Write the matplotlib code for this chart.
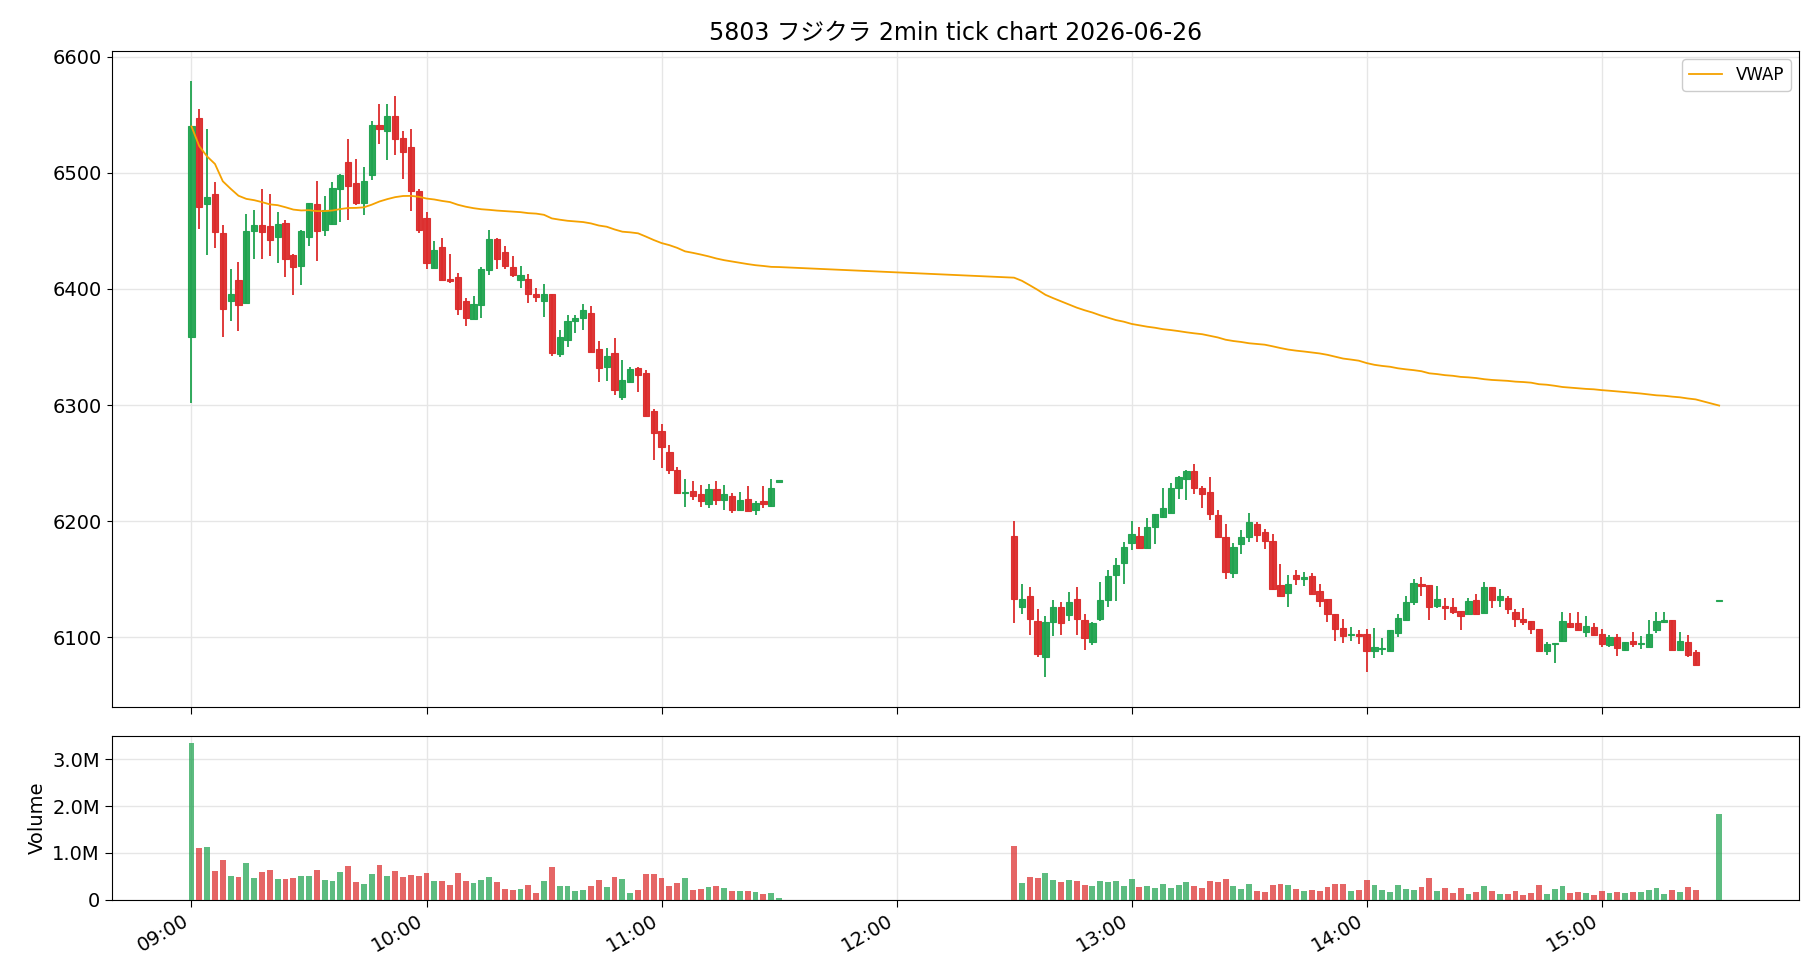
import matplotlib
matplotlib.use("Agg")
import matplotlib.pyplot as plt
import matplotlib.dates as mdates
from matplotlib.ticker import FuncFormatter
import numpy as np
import pandas as pd

plt.rcParams['font.family'] = ['DejaVu Sans', 'Noto Sans CJK JP']

# morning session 09:00 - 11:30 (2 min bars)
am_open = [6359, 6547, 6473, 6482, 6448, 6390, 6408, 6388, 6450, 6455, 6454, 6445, 6457, 6429, 6420, 6445,
           6473, 6451, 6456, 6486, 6509, 6491, 6474, 6498, 6541, 6536, 6549, 6530, 6522, 6484, 6461, 6418,
           6436, 6409, 6410, 6390, 6374, 6386, 6416, 6443, 6432, 6419, 6408, 6409, 6396, 6390, 6396, 6344,
           6356, 6372, 6375, 6379, 6348, 6333, 6345, 6307, 6320, 6332, 6328, 6295, 6278, 6260, 6244, 6224,
           6226, 6223, 6215, 6228, 6218, 6222, 6210, 6219, 6210, 6217, 6213, 6234]
am_high = [6579, 6555, 6538, 6492, 6455, 6417, 6423, 6465, 6468, 6486, 6482, 6466, 6459, 6430, 6451, 6474,
           6493, 6480, 6492, 6499, 6529, 6512, 6505, 6545, 6559, 6559, 6566, 6536, 6538, 6486, 6466, 6441,
           6444, 6430, 6414, 6392, 6394, 6419, 6451, 6444, 6437, 6428, 6420, 6413, 6401, 6404, 6396, 6365,
           6378, 6378, 6387, 6385, 6355, 6349, 6358, 6339, 6333, 6333, 6330, 6297, 6284, 6266, 6247, 6236,
           6235, 6231, 6232, 6235, 6231, 6224, 6225, 6230, 6217, 6230, 6236, 6234]
am_low = [6302, 6452, 6429, 6435, 6359, 6372, 6364, 6388, 6426, 6426, 6428, 6422, 6410, 6395, 6403, 6437,
          6424, 6446, 6455, 6458, 6459, 6472, 6464, 6494, 6525, 6511, 6515, 6495, 6467, 6448, 6417, 6418,
          6408, 6405, 6378, 6368, 6374, 6375, 6412, 6417, 6417, 6410, 6401, 6388, 6389, 6376, 6342, 6341,
          6350, 6362, 6365, 6346, 6320, 6321, 6309, 6304, 6320, 6311, 6291, 6253, 6246, 6241, 6224, 6212,
          6218, 6212, 6211, 6214, 6210, 6207, 6210, 6209, 6205, 6211, 6212, 6234]
am_close = [6540, 6471, 6479, 6449, 6383, 6396, 6386, 6450, 6455, 6449, 6442, 6456, 6426, 6419, 6450, 6474,
            6450, 6468, 6487, 6498, 6489, 6474, 6493, 6541, 6538, 6549, 6529, 6518, 6484, 6451, 6422, 6434,
            6408, 6407, 6383, 6375, 6387, 6417, 6443, 6426, 6420, 6412, 6412, 6396, 6393, 6396, 6345, 6359,
            6372, 6375, 6382, 6346, 6332, 6342, 6313, 6322, 6331, 6326, 6291, 6276, 6264, 6244, 6224, 6225,
            6222, 6217, 6228, 6218, 6223, 6210, 6218, 6209, 6216, 6215, 6229, 6234]
am_vol = [3.35, 1.10, 1.12, 0.61, 0.84, 0.50, 0.48, 0.78, 0.46, 0.59, 0.63, 0.44, 0.44, 0.46, 0.50, 0.50,
          0.63, 0.41, 0.39, 0.59, 0.71, 0.37, 0.33, 0.54, 0.74, 0.50, 0.61, 0.48, 0.52, 0.50, 0.56, 0.39,
          0.39, 0.31, 0.56, 0.39, 0.35, 0.41, 0.48, 0.37, 0.22, 0.20, 0.22, 0.31, 0.14, 0.39, 0.69, 0.29,
          0.29, 0.18, 0.20, 0.29, 0.41, 0.26, 0.48, 0.44, 0.14, 0.20, 0.54, 0.54, 0.46, 0.29, 0.35, 0.46,
          0.20, 0.22, 0.26, 0.29, 0.24, 0.18, 0.18, 0.18, 0.16, 0.11, 0.14, 0.03]

# afternoon session 12:30 - 15:24, then closing auction 15:30
pm_open = [6187, 6126, 6136, 6114, 6083, 6113, 6126, 6119, 6133, 6115, 6096, 6116, 6132, 6154, 6164, 6181,
           6187, 6177, 6195, 6204, 6207, 6229, 6236, 6243, 6229, 6225, 6205, 6186, 6155, 6180, 6186, 6198,
           6191, 6183, 6145, 6138, 6154, 6150, 6153, 6140, 6133, 6120, 6108, 6102, 6103, 6103, 6088, 6090,
           6088, 6104, 6115, 6130, 6146, 6145, 6127, 6127, 6126, 6123, 6120, 6132, 6121, 6143, 6132, 6134,
           6122, 6116, 6114, 6107, 6088, 6094, 6097, 6112, 6112, 6105, 6109, 6103, 6093, 6100, 6089, 6097,
           6094, 6092, 6106, 6113, 6115, 6089, 6096, 6087, 6131]
pm_high = [6200, 6146, 6143, 6124, 6118, 6132, 6130, 6139, 6143, 6120, 6113, 6148, 6158, 6168, 6182, 6200,
           6195, 6203, 6206, 6229, 6233, 6239, 6244, 6249, 6230, 6238, 6210, 6198, 6181, 6192, 6207, 6199,
           6193, 6189, 6163, 6154, 6158, 6156, 6155, 6146, 6133, 6120, 6116, 6109, 6106, 6107, 6108, 6099,
           6106, 6120, 6136, 6150, 6152, 6145, 6144, 6134, 6134, 6123, 6134, 6137, 6148, 6143, 6142, 6136,
           6124, 6125, 6114, 6107, 6096, 6095, 6122, 6121, 6122, 6118, 6112, 6107, 6102, 6103, 6096, 6105,
           6101, 6115, 6122, 6122, 6115, 6105, 6102, 6089, 6131]
pm_low = [6112, 6120, 6102, 6083, 6066, 6101, 6102, 6114, 6102, 6089, 6093, 6114, 6126, 6131, 6146, 6175,
          6176, 6177, 6180, 6203, 6207, 6219, 6218, 6223, 6211, 6201, 6186, 6150, 6151, 6172, 6182, 6182,
          6176, 6141, 6136, 6126, 6145, 6144, 6137, 6126, 6113, 6097, 6095, 6097, 6094, 6070, 6082, 6085,
          6088, 6100, 6115, 6128, 6136, 6115, 6125, 6115, 6120, 6106, 6120, 6120, 6121, 6125, 6126, 6120,
          6109, 6111, 6103, 6088, 6085, 6078, 6096, 6108, 6106, 6100, 6102, 6092, 6092, 6084, 6088, 6092,
          6090, 6092, 6104, 6112, 6089, 6089, 6083, 6076, 6131]
pm_close = [6133, 6133, 6116, 6086, 6113, 6126, 6112, 6130, 6116, 6099, 6112, 6132, 6153, 6162, 6178, 6189,
            6177, 6195, 6206, 6211, 6229, 6238, 6243, 6229, 6223, 6206, 6186, 6156, 6178, 6186, 6199, 6188,
            6183, 6142, 6136, 6146, 6150, 6152, 6137, 6131, 6120, 6107, 6101, 6103, 6101, 6088, 6092, 6091,
            6106, 6117, 6130, 6147, 6144, 6126, 6133, 6125, 6122, 6118, 6131, 6120, 6143, 6132, 6136, 6124,
            6116, 6113, 6107, 6088, 6094, 6095, 6114, 6109, 6106, 6110, 6102, 6094, 6100, 6091, 6096, 6094,
            6095, 6103, 6114, 6115, 6089, 6097, 6085, 6076, 6131]
pm_vol = [1.14, 0.35, 0.48, 0.46, 0.56, 0.41, 0.37, 0.41, 0.39, 0.31, 0.29, 0.39, 0.37, 0.39, 0.29, 0.44,
          0.26, 0.29, 0.24, 0.33, 0.24, 0.31, 0.37, 0.29, 0.24, 0.39, 0.37, 0.44, 0.29, 0.22, 0.33, 0.18,
          0.16, 0.31, 0.33, 0.31, 0.22, 0.18, 0.20, 0.18, 0.26, 0.33, 0.33, 0.18, 0.20, 0.41, 0.31, 0.20,
          0.16, 0.31, 0.22, 0.20, 0.26, 0.46, 0.18, 0.24, 0.14, 0.24, 0.11, 0.16, 0.29, 0.18, 0.11, 0.11,
          0.18, 0.09, 0.14, 0.31, 0.11, 0.22, 0.29, 0.14, 0.16, 0.14, 0.09, 0.18, 0.14, 0.16, 0.14, 0.16,
          0.16, 0.20, 0.24, 0.11, 0.20, 0.16, 0.26, 0.20, 1.83]

times = list(pd.date_range('2026-06-26 09:00', periods=len(am_open), freq='2min')) + \
        list(pd.date_range('2026-06-26 12:30', periods=len(pm_open) - 1, freq='2min')) + \
        [pd.Timestamp('2026-06-26 15:30')]

df = pd.DataFrame({
    'open': am_open + pm_open,
    'high': am_high + pm_high,
    'low': am_low + pm_low,
    'close': am_close + pm_close,
    'volume': np.array(am_vol + pm_vol) * 1e6,
}, index=pd.DatetimeIndex(times))

# cumulative vwap on close
df['vwap'] = (df['close'] * df['volume']).cumsum() / df['volume'].cumsum()

GREEN = '#1fa34f'
RED = '#dc2b2b'
up = df['close'] >= df['open']
colors = np.where(up, GREEN, RED)

x = mdates.date2num(df.index.to_pydatetime())
w = 1.6 / 1440

fig = plt.figure(figsize=(18.2, 9.8), dpi=100)
ax = fig.add_axes([0.0613, 0.2786, 0.9272, 0.6694])
axv = fig.add_axes([0.0613, 0.0821, 0.9272, 0.1669], sharex=ax)

# candles
ax.vlines(x, df['low'], df['high'], colors=colors, linewidth=1.3, zorder=2)
body = (df['close'] - df['open']).abs().clip(lower=1.2)
bottom = df[['open', 'close']].min(axis=1)
ax.bar(x, body, bottom=bottom, width=w, color=colors, edgecolor=colors,
       linewidth=0.8, alpha=0.95, zorder=3)
ax.plot(x, df['vwap'], color='#f5a100', linewidth=1.3, label='VWAP', zorder=4)

ax.set_ylim(6040, 6605)
ax.set_yticks([6100, 6200, 6300, 6400, 6500, 6600])
ax.grid(True, color='#e6e6e6', linewidth=1)
ax.set_axisbelow(True)
ax.legend(loc='upper right', fontsize=12, framealpha=1)
ax.set_title('5803 フジクラ 2min tick chart 2026-06-26', fontsize=17, pad=8)
ax.tick_params(axis='x', labelbottom=False, length=5)
ax.tick_params(axis='y', labelsize=14)

# volume
axv.bar(x, df['volume'], width=1.5 / 1440, color=colors, alpha=0.72, zorder=3)
axv.set_ylim(0, 3.5e6)
axv.set_yticks([0, 1e6, 2e6, 3e6])
axv.yaxis.set_major_formatter(FuncFormatter(lambda v, p: '0' if v == 0 else f'{v / 1e6:.1f}M'))
axv.set_ylabel('Volume', fontsize=14)
axv.grid(True, color='#e6e6e6', linewidth=1)
axv.set_axisbelow(True)
axv.tick_params(axis='both', labelsize=14, length=5)

t0 = mdates.date2num(pd.Timestamp('2026-06-26 09:00').to_pydatetime())
axv.set_xlim(t0 - 20.4 / 1440, t0 + 410.4 / 1440)
axv.xaxis.set_major_locator(mdates.HourLocator())
axv.xaxis.set_major_formatter(mdates.DateFormatter('%H:%M'))
plt.setp(axv.get_xticklabels(), rotation=30, ha='right')

fig.savefig('out.png', dpi=100)
